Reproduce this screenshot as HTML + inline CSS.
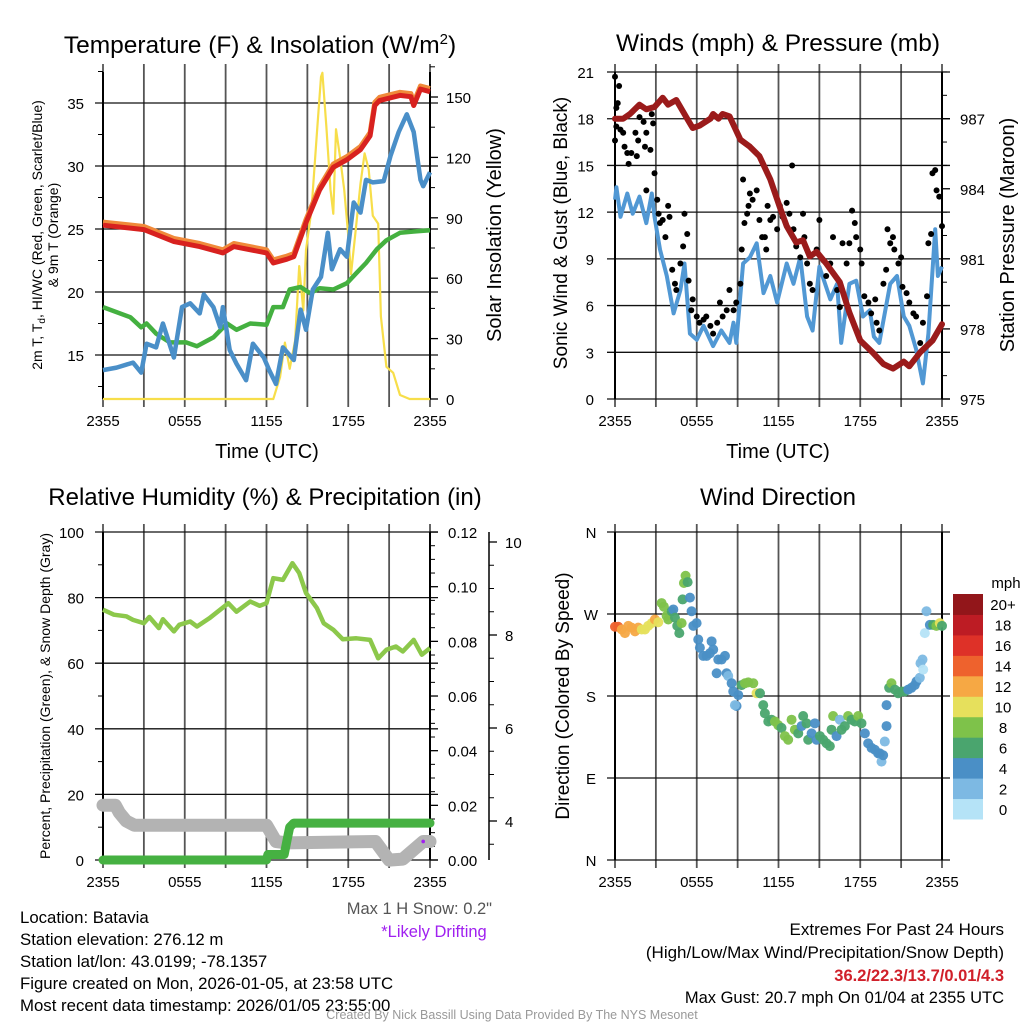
<!DOCTYPE html>
<html><head><meta charset="utf-8"><style>
html,body{margin:0;padding:0;background:#fff;}
svg{display:block;font-family:"Liberation Sans",Arial,sans-serif;}
</style></head><body>
<svg id="fig" width="1024" height="1024" viewBox="0 0 1024 1024" xmlns="http://www.w3.org/2000/svg"></svg>
<script>
// ---------- DATA ----------
const xTickLabels = ["2355","0555","1155","1755","2355"];
const xTickHours = [0,6,12,18,24];
// Panel 1: temperature
const tempTimes = [0,3,5.2,7.1,8.8,9.6,12,12.5,13.5,14,14.9,15.9,16.9,17.9,18.9,19.6,19.95,20.3,21.8,22.6,22.8,23.3,24];
const tempVals  = [25.3,24.95,24.0,23.6,23.1,23.6,23.1,22.3,22.6,22.8,25.5,28.1,29.9,30.5,31.3,32.4,34.8,35.2,35.6,35.5,34.8,36.1,35.9];
const hiwcTimes = [0,1,2.2,2.8,3.2,3.9,4.4,5.2,5.8,6.4,7.1,7.4,8.1,8.6,8.8,9.3,9.8,10.5,11,11.8,12.2,12.7,13.2,14,14.5,14.9,15.4,16,16.5,16.8,17.4,17.9,18.4,18.9,19.3,19.8,20.6,21.1,21.7,22.3,22.8,23.3,23.5,24];
const hiwcVals  = [13.8,14.0,14.4,13.6,15.9,15.6,17.5,14.8,18.8,19.1,18.3,19.8,18.8,17.2,18.8,15.4,14.3,13.0,15.9,14.8,13.8,12.7,15.6,14.6,18.6,17.0,20.2,21.2,24.7,21.8,23.4,22.8,27.1,26.3,28.9,28.7,28.8,30.8,32.7,34.1,32.7,28.9,28.4,29.5];
const dewTimes = [0,2,2.8,3.2,3.9,4.9,6.1,6.9,8.1,9.1,9.8,10.8,12,12.5,13.2,13.7,14.5,15.2,15.9,16.9,17.9,18.6,19.3,20.1,20.8,21.8,22.8,24];
const dewVals  = [18.8,18.0,17.2,17.5,16.7,16.0,16.0,15.7,16.4,17.5,17.0,17.5,17.4,18.8,18.8,20.2,20.4,19.9,20.3,20.2,20.7,21.5,22.3,23.4,24.1,24.7,24.8,24.9];
const solarTimes = [0,12.5,13,13.35,13.7,14.1,14.4,14.7,14.9,15.3,15.7,16,16.1,16.4,16.7,16.9,17.1,17.4,17.7,18,18.2,18.5,18.9,19.2,19.5,19.8,20.2,20.4,20.8,21.3,21.8,22.5,24];
const solarVals  = [0,0,11,28,15,29,66,44,74,94,132,160,162,135,104,92,134,120,104,81,62,81,107,122,114,91,87,41,16,13,2,0,0];
// Panel 2: winds & pressure
const presTimes = [0,0.6,1.1,1.8,2.3,2.9,3.5,3.9,4.5,5.3,5.7,6.2,7,7.2,7.6,7.9,8.4,9.2,9.9,10.6,11.4,12.1,12.6,13.3,13.8,14.3,14.8,15.5,16.5,17.2,18,18.9,19.7,20.4,21.2,21.6,22.4,23.3,24];
const presVals  = [987.0,987.0,987.2,987.6,987.4,987.5,987.9,987.6,987.8,987.0,986.6,986.7,987.0,987.2,987.0,987.2,987.1,986.1,985.8,985.4,984.4,983.2,982.4,981.7,981.8,981.1,981.3,980.8,980.0,978.7,977.5,977.0,976.5,976.3,976.6,976.4,977.0,977.5,978.2];
const windTimes = [0,0.1,0.4,0.9,1.3,1.8,2.3,2.7,2.9,3.3,3.8,4.3,4.8,5.1,5.5,6,6.5,7.2,7.8,8.4,8.7,8.9,9.4,9.9,10.4,10.9,11.4,11.9,12.6,13.1,13.6,14.1,14.5,15,15.8,16.3,16.6,17.2,17.7,18.2,18.7,19,19.4,20.2,20.7,21.2,21.6,22.1,22.6,23,23.5,23.7,24];
const windVals  = [12.8,13.6,11.7,13.2,11.9,13.0,11.3,13.2,11.7,9.6,7.9,5.5,7.0,8.7,4.2,3.8,4.7,3.4,4.4,3.6,4.9,3.6,8.7,9.1,10.0,6.8,7.9,6.2,8.7,7.4,9.1,5.3,4.4,8.5,6.4,7.4,3.6,7.4,7.6,5.3,5.7,4.0,3.6,7.4,7.9,5.3,4.7,3.2,1.0,4.2,10.9,7.9,8.5];
const gustTimes = [0,0.3,0.1,0.2,0,0.1,0.4,0.6,0.7,0.9,1.0,1.2,1.5,1.6,1.7,1.8,2.1,2.2,2.3,2.3,2.6,2.7,2.8,2.9,3.1,3.2,3.3,3.5,3.7,3.9,4.0,4.2,4.4,4.5,4.8,5.0,5.1,5.3,5.4,5.6,5.7,6.0,6.2,6.5,6.7,7.0,7.2,7.5,7.7,7.9,8.2,8.4,8.7,8.9,9.2,9.3,9.4,9.5,9.7,9.8,9.9,10.1,10.4,10.6,10.8,11.0,11.1,11.2,11.4,11.6,11.9,12.1,12.3,12.6,12.8,13.0,13.1,13.3,13.6,13.8,13.9,14.1,14.3,14.5,14.8,15.0,15.3,15.5,15.8,16.0,16.3,16.5,16.7,17.0,17.2,17.4,17.6,17.7,18.0,18.1,18.3,18.6,18.8,19.1,19.2,19.4,19.7,19.9,20.0,20.2,20.4,20.5,20.8,21.0,21.1,21.4,21.6,21.9,22.1,22.4,22.6,22.9,23.0,23.2,23.3,23.5,23.6,23.8,24.0];
const gustVals  = [20.7,20.1,18.7,19.0,16.6,17.5,17.3,17.1,16.2,15.8,15.1,15.8,17.1,15.6,16.6,18.1,17.8,16.2,17.1,13.4,16.0,18.3,17.7,14.5,12.8,11.9,11.3,11.5,10.4,12.4,11.7,8.3,7.4,7.0,8.7,9.8,11.9,10.6,7.6,5.7,6.4,5.3,4.9,5.1,5.3,4.7,4.2,4.9,6.2,5.3,5.7,7.0,5.7,6.2,7.4,9.6,14.1,11.3,11.9,12.4,13.2,12.8,13.4,11.5,10.4,10.4,9.6,12.4,11.5,11.7,10.9,12.4,11.7,12.6,11.9,15.0,10.9,9.8,9.1,11.9,10.4,8.7,7.4,7.0,9.6,11.5,8.9,7.9,8.7,10.4,7.0,5.9,10.0,8.7,10.0,12.1,11.3,10.4,9.6,8.7,6.6,6.2,5.5,6.4,4.9,4.4,7.4,8.3,10.9,10.0,10.4,9.6,8.7,9.1,7.2,6.8,6.2,5.5,5.3,3.6,4.9,6.6,10.0,10.6,14.5,14.7,13.4,13.0,11.1];
// Panel 3: RH, precip, snow
const rhTimes = [0,0.8,1.7,2.2,3,3.4,4.1,4.4,5.2,5.6,6.4,6.9,7.8,8.6,9.2,9.8,10.8,11.5,12,12.5,13.2,13.9,14.4,14.9,15.7,16.2,16.9,17.6,18.6,19.6,20.2,20.8,21.5,22,22.8,23.4,24];
const rhVals  = [76.3,74.8,74.3,73.2,72.2,74.1,70.7,73.4,69.7,71.7,72.7,71.2,73.7,76.3,78.3,75.7,78.8,77.5,78.3,85.9,85.4,90.5,87.5,81.4,76.8,72.2,70.2,67.3,67.6,67.1,61.5,64.1,65.1,63.6,67.1,62.6,64.6];
const precipTimes = [0,12,12.1,13.3,13.5,13.7,14,24];
const precipVals  = [0,0,0.002,0.002,0.007,0.012,0.0135,0.0135];
const snowTimes = [0,0.9,1.2,1.7,2.3,12,12.7,13.5,20,21,22,23.5,24];
const snowVals  = [4.34,4.34,4.18,4.0,3.91,3.91,3.56,3.53,3.56,3.16,3.18,3.56,3.56];
const driftTime = 23.5, driftVal = 3.56;
// Panel 4: direction
const dirTimes = [0,0.24,0.49,0.73,0.98,1.22,1.47,1.71,1.96,2.2,2.44,2.69,2.93,3.18,3.42,3.59,3.79,3.91,4.16,4.28,4.4,4.57,4.72,4.89,4.96,5.06,5.18,5.33,5.5,5.62,5.75,5.99,6.11,6.23,6.48,6.72,6.97,7.09,7.21,7.46,7.58,7.82,8.07,8.19,8.31,8.56,8.68,8.92,8.8,9.05,9.29,9.54,9.78,10.15,10.39,10.64,10.88,11.0,11.25,11.49,11.74,11.98,12.22,12.47,12.71,12.96,13.2,13.45,13.69,13.81,14.06,14.18,14.43,14.67,14.79,15.04,15.28,15.53,15.77,15.89,16.01,16.26,16.5,16.63,16.87,17.11,17.36,17.6,17.85,18.09,18.34,18.58,18.83,19.07,19.32,19.44,19.56,19.68,19.8,19.93,19.93,20.12,20.29,20.54,20.78,21.03,21.27,21.52,21.76,22.0,22.13,22.37,22.42,22.57,22.62,22.74,22.86,23.11,23.35,23.59,23.84,24.0];
const dirDeg = [256,256,253,249,257,255,251,255,253,253,257,260,264,261,282,278,268,264,273,275,266,257,249,260,286,304,312,305,288,273,257,260,242,233,224,224,227,240,231,205,220,220,224,205,202,194,185,169,170,181,192,194,195,194,183,183,170,161,152,154,152,148,145,136,132,154,143,139,147,158,150,132,139,150,132,136,132,128,125,143,158,136,154,143,147,158,154,152,158,150,139,128,123,121,117,117,108,115,130,147,170,189,194,187,183,185,185,187,189,192,196,200,216,220,209,249,273,258,258,257,260,257,254];
const dirSpeed = [15,14,12,12,12,12,12,12,11,10,11,11,12,10,8,8,8,8,6,5,6,6,6,8,6,8,8,6,5,4,4,4,4,4,4,4,4,4,4,4,4,4,4,4,2,4,4,4,2,4,6,8,8,8,10,6,6,6,6,6,8,8,6,8,8,8,8,6,4,6,6,6,4,4,4,6,6,6,6,6,8,4,2,6,6,8,6,6,8,6,4,4,4,4,4,4,2,4,2,4,4,6,8,6,6,6,6,4,4,4,4,2,2,2,1,1,2,4,6,8,10,6,8];
const cbLabels = ["0","2","4","6","8","10","12","14","16","18","20+"];
const cbColors = ["#b5e3f7","#7db9e3","#4a8fc6","#4aa56e","#7ec24a","#e6e05c","#f6a844","#ee622d","#de3128","#bd1c24","#92161a"];

// ---------- helpers ----------
const NS="http://www.w3.org/2000/svg";
const svg=document.getElementById('fig');
function mk(tag,attrs,parent){const e=document.createElementNS(NS,tag);for(const k in attrs)e.setAttribute(k,attrs[k]);(parent||svg).appendChild(e);return e;}
function txt(s,x,y,size,anchor,extra,parent){const e=mk('text',Object.assign({x:x,y:y,'font-size':size,'text-anchor':anchor||'middle',fill:'#000'},extra||{}),parent);e.textContent=s;return e;}
function poly(ts,vs,fx,fy){return ts.map((t,i)=>fx(t).toFixed(1)+','+fy(vs[i]).toFixed(1)).join(' ');}

function frame(g,L,R,T,B,xfn,hLines){
  for(let h=0;h<=24;h+=3){const x=xfn(h);
    const l=mk('line',{x1:x,x2:x,y1:T-8,y2:B+8,stroke:'#555','stroke-width':1.8},g);
    
    }
  hLines.forEach(y=>{const l=mk('line',{x1:L-8,x2:R+8,y1:y,y2:y,stroke:'#111','stroke-width':1.3},g);
    
    });
  const ax=mk('line',{x1:L,x2:L,y1:T,y2:B,stroke:'#000','stroke-width':2},g);
  
  
  const ax2=mk('line',{x1:R,x2:R,y1:T,y2:B,stroke:'#000','stroke-width':2},g);
  
  
  xTickHours.forEach((h,i)=>{const t=txt(xTickLabels[i],xfn(h),B+27,15,'middle',{},g);
    
    });
}
function minorTicks(g,x,dir,ys){ys.forEach(y=>{mk('line',{x1:x,x2:x+dir*5,y1:y,y2:y,stroke:'#000','stroke-width':1},g);});}

// ================= PANEL 1 =================
const p1=mk('g',{});


const x1=h=>103+h*13.625, y1L=v=>355-(v-15)*12.6, y1R=v=>399-v*2.0133;
const p1Left=[15,20,25,30,35], p1Right=[0,30,60,90,120,150];
frame(p1,103,430,72,399,x1,p1Left.map(y1L));
p1Right.forEach(v=>{mk('line',{x1:430,x2:438,y1:y1R(v),y2:y1R(v),stroke:'#000','stroke-width':1.3},p1);});
minorTicks(p1,103,-1,[12.5,17.5,22.5,27.5,32.5,37.5].map(y1L));
minorTicks(p1,430,1,[15,45,75,105,135,165].map(y1R));
p1Left.forEach(v=>{const t=txt(String(v),84,y1L(v)+6,15,'end',{},p1);
  
  });
p1Right.forEach(v=>{const t=txt(String(v),446,y1R(v)+6,15,'start',{},p1);
  
  });
{
 const s=mk('polyline',{points:poly(solarTimes,solarVals,x1,y1R),fill:'none',stroke:'#f7de4a','stroke-width':2.2,'stroke-linejoin':'round'},p1);
 
 
 const d=mk('polyline',{points:poly(dewTimes,dewVals,x1,y1L),fill:'none',stroke:'#44b040','stroke-width':4.5,'stroke-linejoin':'round'},p1);
 
 
 const b=mk('polyline',{points:poly(hiwcTimes,hiwcVals,x1,y1L),fill:'none',stroke:'#4a8fc8','stroke-width':4.5,'stroke-linejoin':'round'},p1);
 
 
 const o=mk('polyline',{points:poly(tempTimes,tempVals.map(v=>v+0.25),x1,y1L),fill:'none',stroke:'#f08a3a','stroke-width':5,'stroke-linejoin':'round'},p1);
 
 
 const r=mk('polyline',{points:poly(tempTimes,tempVals,x1,y1L),fill:'none',stroke:'#d8211f','stroke-width':5,'stroke-linejoin':'round'},p1);
 
 
}
{const t=txt('Temperature (F) & Insolation (W/m',260,53,24.5,'middle',{},p1);
 const sup=mk('tspan',{dy:-9,'font-size':15},t);sup.textContent='2';
 const cl=mk('tspan',{dy:9},t);cl.textContent=')';
 
 }
{const t=txt('Time (UTC)',267,458,20,'middle',{},p1);
 
 }
{const t=mk('text',{x:0,y:0,'font-size':14,'text-anchor':'middle',transform:'translate(42,235) rotate(-90)'},p1);
 t.textContent='2m T, T';
 const sb=mk('tspan',{'font-size':10,dy:3},t);sb.textContent='d';
 const rest=mk('tspan',{dy:-3},t);rest.textContent=', HI/WC (Red, Green, Scarlet/Blue)';
 
 
 const t2=txt('& 9m T (Orange)',0,0,14,'middle',{transform:'translate(58,235) rotate(-90)'},p1);
 
 }
{const t=txt('Solar Insolation (Yellow)',0,0,20,'middle',{transform:'translate(501,235) rotate(-90)'},p1);
 
 }

// ================= PANEL 2 =================
const p2=mk('g',{});


const x2=h=>615+h*13.625, y2L=v=>399-v*15.57, y2P=p=>399-(p-975)*23.36;
const p2Left=[0,3,6,9,12,15,18,21], p2Right=[975,978,981,984,987];
frame(p2,615,942,72,399,x2,p2Left.map(y2L));
p2Right.forEach(v=>{mk('line',{x1:942,x2:950,y1:y2P(v),y2:y2P(v),stroke:'#000','stroke-width':1.3},p2);});
minorTicks(p2,942,1,[976,977,979,980,982,983,985,986,988,989].map(y2P));
p2Left.forEach(v=>{const t=txt(String(v),594,y2L(v)+6,15,'end',{},p2);
  
  });
p2Right.forEach(v=>{const t=txt(String(v),960,y2P(v)+6,15,'start',{},p2);
  
  });
{
 const b=mk('polyline',{points:poly(windTimes,windVals,x2,y2L),fill:'none',stroke:'#5198d4','stroke-width':4,'stroke-linejoin':'round'},p2);
 
 
 gustTimes.forEach((t,i)=>{const c=mk('circle',{cx:x2(t),cy:y2L(gustVals[i]),r:3,fill:'#000'},p2);
  
  });
 const m=mk('polyline',{points:poly(presTimes,presVals,x2,y2P),fill:'none',stroke:'#9b1b1b','stroke-width':6,'stroke-linejoin':'round','stroke-linecap':'round'},p2);
 
 
}
{const t=txt('Winds (mph) & Pressure (mb)',778,51,24.5,'middle',{},p2);
 
 }
{const t=txt('Time (UTC)',778,458,20,'middle',{},p2);
 
 }
{const t=txt('Sonic Wind & Gust (Blue, Black)',0,0,19,'middle',{transform:'translate(567,233) rotate(-90)'},p2);
 
 }
{const t=txt('Station Pressure (Maroon)',0,0,20,'middle',{transform:'translate(1014,235) rotate(-90)'},p2);
 
 }

// ================= PANEL 3 =================
const p3=mk('g',{});


const x3=x1, y3L=v=>860-v*3.28, y3R=p=>860-p*2733, y3S=s=>821-(s-4)*46.5;
const p3Left=[0,20,40,60,80,100], p3Right=[0,0.02,0.04,0.06,0.08,0.10,0.12], p3Snow=[4,6,8,10];
frame(p3,103,430,532,860,x3,p3Left.map(y3L));
p3Right.forEach(v=>{mk('line',{x1:430,x2:438,y1:y3R(v),y2:y3R(v),stroke:'#000','stroke-width':1.3},p3);});
minorTicks(p3,103,-1,[10,30,50,70,90].map(y3L));
minorTicks(p3,430,1,[0.005,0.01,0.015,0.025,0.03,0.035,0.045,0.05,0.055,0.065,0.07,0.075,0.085,0.09,0.095,0.105,0.11,0.115].map(y3R));
p3Left.forEach(v=>{const t=txt(String(v),84,y3L(v)+6,15,'end',{},p3);
  
  });
p3Right.forEach(v=>{const t=txt(v.toFixed(2),448,y3R(v)+6,15,'start',{},p3);
  
  });
{const sa=mk('line',{x1:489,x2:489,y1:532,y2:860,stroke:'#000','stroke-width':1.5},p3);
 
 
 p3Snow.forEach(v=>{mk('line',{x1:489,x2:497,y1:y3S(v),y2:y3S(v),stroke:'#000','stroke-width':1.3},p3);
   const t=txt(String(v),505,y3S(v)+6,15,'start',{},p3);
   
   });
 minorTicks(p3,489,1,[3.5,4.5,5,5.5,6.5,7,7.5,8.5,9,9.5].map(y3S));}
{
 const g=mk('polyline',{points:poly(snowTimes,snowVals,x3,y3S),fill:'none',stroke:'#b3b3b3','stroke-width':13,'stroke-linejoin':'round','stroke-linecap':'round'},p3);
 
 
 const pr=mk('polyline',{points:poly(precipTimes,precipVals,x3,y3R),fill:'none',stroke:'#46b142','stroke-width':9,'stroke-linejoin':'round','stroke-linecap':'round'},p3);
 
 
 const rh=mk('polyline',{points:poly(rhTimes,rhVals,x3,y3L),fill:'none',stroke:'#8cc84b','stroke-width':4.5,'stroke-linejoin':'round'},p3);
 
 
 const dp=mk('circle',{cx:x3(driftTime),cy:y3S(driftVal),r:1.8,fill:'#a020f0'},p3);
 
 
}
{const t=txt('Relative Humidity (%) & Precipitation (in)',265,505,24,'middle',{},p3);
 
 }
{const t=txt('Percent, Precipitation (Green), & Snow Depth (Gray)',0,0,14,'middle',{transform:'translate(50,696) rotate(-90)'},p3);
 
 }

// ================= PANEL 4 =================
const p4=mk('g',{});


const x4=x2, y4=d=>860-d*0.9111;
const dirTickDeg=[0,90,180,270,360], dirTickLab=['N','E','S','W','N'];
frame(p4,615,942,532,860,x4,dirTickDeg.map(y4));
dirTickDeg.forEach((d,i)=>{const t=txt(dirTickLab[i],591,y4(d)+6,15,'middle',{},p4);
  
  });
dirTimes.forEach((t,i)=>{const ci=Math.min(10,Math.floor(dirSpeed[i]/2));
  const c=mk('circle',{cx:x4(t),cy:y4(dirDeg[i]),r:5,fill:cbColors[ci],'fill-opacity':0.95},p4);
  
  });
cbColors.forEach((col,i)=>{const h=225/11;const y=819-(i+1)*h;
  const r=mk('rect',{x:953,y:y,width:30,height:h+0.5,fill:col},p4);
  
  
  const t=txt(cbLabels[i],1003,y+h/2+6,15,'middle',{},p4);
  
  });
{const t=txt('mph',1006,588,15,'middle',{},p4);
 
 }
{const t=txt('Wind Direction',778,505,24,'middle',{},p4);
 
 }
{const t=txt('Direction (Colored By Speed)',0,0,19,'middle',{transform:'translate(569,696) rotate(-90)'},p4);
 
 }

// ================= FOOTER TEXT =================
const info=["Location: Batavia","Station elevation: 276.12 m","Station lat/lon: 43.0199; -78.1357","Figure created on Mon, 2026-01-05, at 23:58 UTC","Most recent data timestamp: 2026/01/05 23:55:00"];
info.forEach((s,i)=>{const t=txt(s,20,923+i*22,16.8,'start',{});
  
  });
{const t=txt('Max 1 H Snow: 0.2"',492,914,16.5,'end',{fill:'#555'});
 
 
 const t2=txt('*Likely Drifting',434,937,16.5,'middle',{fill:'#a020f0'});
 
 }
{const a=txt('Extremes For Past 24 Hours',1004,935,17,'end',{});
 
 
 const b=txt('(High/Low/Max Wind/Precipitation/Snow Depth)',1004,958,17,'end',{});
 
 
 const c=txt('36.2/22.3/13.7/0.01/4.3',1004,981,16.5,'end',{fill:'#d0202a','font-weight':'bold'});
 
 
 const d=txt('Max Gust: 20.7 mph On 01/04 at 2355 UTC',1004,1003,16.5,'end',{});
 
 
 const e=txt('Created By Nick Bassill Using Data Provided By The NYS Mesonet',512,1019,12.5,'middle',{fill:'#999'});
 
 }
</script>
</body></html>
